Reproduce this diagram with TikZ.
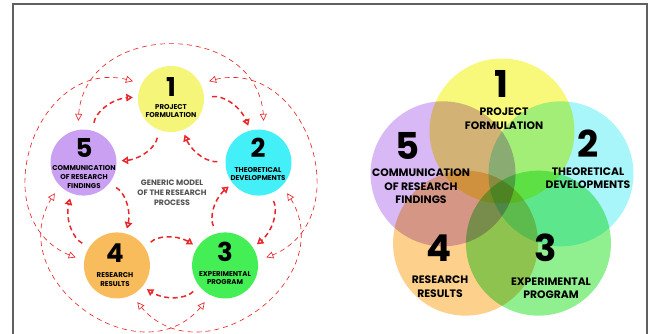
\documentclass[tikz,border=0pt]{standalone}
\usepackage{fontspec}
\setmainfont{Poppins}
\usetikzlibrary{arrows.meta,bending}

\definecolor{dashred}{HTML}{E8262B}
\definecolor{framegray}{HTML}{606060}
\definecolor{midgray}{HTML}{505050}
% solid discs of the cycle diagram
\definecolor{cyel}{HTML}{F5F57A}
\definecolor{ccya}{HTML}{44F0F8}
\definecolor{cgrn}{HTML}{44EE55}
\definecolor{corg}{HTML}{F8BC5C}
\definecolor{cpur}{HTML}{C9A0F2}
% tints of the overlapping discs
\definecolor{vyel}{HTML}{F8F87A}
\definecolor{vcya}{HTML}{A8F5FA}
\definecolor{vgrn}{HTML}{90F090}
\definecolor{vorg}{HTML}{FDD08C}
\definecolor{vpur}{HTML}{D8B8F5}

\begin{document}
\begin{tikzpicture}[x=1pt,y=1pt,
  disc/.style={circle,minimum size=66pt,inner sep=0pt},
  bigdisc/.style={circle,minimum size=145pt,inner sep=0pt,blend mode=multiply},
  num/.style={font=\fontsize{26}{26}\selectfont\bfseries,inner sep=0pt},
  lbl/.style={font=\fontsize{7}{8.8}\selectfont\bfseries,align=center,inner sep=0pt},
  bignum/.style={font=\fontsize{37}{37}\selectfont\bfseries,inner sep=0pt},
  biglbl/.style={font=\fontsize{10.8}{13.5}\selectfont\bfseries,align=center,inner sep=0pt},
  midtext/.style={font=\fontsize{7.8}{9.8}\selectfont\bfseries,align=center,text=midgray,inner sep=0pt},
  thickarr/.style={draw=dashred,line width=1.5pt,dash pattern=on 5pt off 3.5pt,
    -{Triangle[open,length=6.5pt,width=7.5pt]},shorten <=8pt,shorten >=5pt},
  thinarr/.style={draw=dashred,line width=0.65pt,dash pattern=on 5pt off 4pt,
    {Triangle[open,length=7pt,width=7pt]}-{Triangle[open,length=7pt,width=7pt]}},
  frame/.style={draw=framegray,line width=1.2pt}
]
\useasboundingbox (0,0) rectangle (650,334);
\draw[frame] (13,-10) rectangle (647,330);

% ---- cycle of five stages ----
\begin{scope}[shift={(171,143)}]
  \node[disc,fill=cyel] (c1) at (90:92) {};
  \node[disc,fill=ccya] (c2) at (18:92) {};
  \node[disc,fill=cgrn] (c3) at (-54:92) {};
  \node[disc,fill=corg] (c4) at (-126:92) {};
  \node[disc,fill=cpur] (c5) at (162:92) {};
\end{scope}

\node[num] (n1) at (171,247) {1};
\node[lbl] (l1) at (171,223) {PROJECT\\FORMULATION};
\node[num] (n2) at (258,186) {2};
\node[lbl] (l2) at (258,160) {THEORETICAL\\DEVELOPMENTS};
\node[num] (n3) at (225,82) {3};
\node[lbl] (l3) at (225,56) {EXPERIMENTAL\\PROGRAM};
\node[num] (n4) at (115,81) {4};
\node[lbl] (l4) at (115,54.5) {RESEARCH\\RESULTS};
\node[num] (n5) at (84,186) {5};
\node[lbl] (l5) at (84,157) {COMMUNICATION\\OF RESEARCH\\FINDINGS};
\node[midtext] (mid) at (172,141) {GENERIC MODEL\\OF THE RESEARCH\\PROCESS};

% neighbouring stages: outer ring clockwise, inner ring counter-clockwise
\foreach \i/\j in {1/2,2/3,3/4,4/5,5/1} {
  \pgfmathtruncatemacro\sa{mod(90-72*(\i-1)-88+720,360)}
  \pgfmathtruncatemacro\ea{mod(90-72*(\j-1)+88+720,360)}
  \pgfmathtruncatemacro\sb{mod(90-72*(\j-1)+158+720,360)}
  \pgfmathtruncatemacro\eb{mod(90-72*(\i-1)-158+720,360)}
  \draw[thickarr] (c\i.\sa) to[bend left=45] (c\j.\ea);
  \draw[thickarr] (c\j.\sb) to[bend left=45] (c\i.\eb);
}

% stages two apart, joined round the outside of the one between them
\foreach \k/\a/\b in {1/5/2,2/1/3,3/2/4,4/3/5,5/4/1} {
  \pgfmathsetmacro\ang{90-72*(\k-1)}
  \path (c\a.center) ++(\ang+7:42) coordinate (ta\k);
  \path (c\b.center) ++(\ang-7:42) coordinate (tb\k);
  \draw[thinarr] (ta\k) .. controls +(\ang:103) and +(\ang:103) .. (tb\k);
}

% ---- overlapping stages ----
\begin{scope}[shift={(502,141)}]
  \node[bigdisc,fill=vyel] (v1) at (90:62) {};
  \node[bigdisc,fill=vcya] (v2) at (18:62) {};
  \node[bigdisc,fill=vgrn] (v3) at (-54:62) {};
  \node[bigdisc,fill=vorg] (v4) at (-126:62) {};
  \node[bigdisc,fill=vpur] (v5) at (162:62) {};
\end{scope}

\node[bignum] (m1) at (501,250) {1};
\node[biglbl] (k1) at (504,215.5) {PROJECT\\FORMULATION};
\node[bignum] (m2) at (588,190) {2};
\node[biglbl] (k2) at (588,156) {THEORETICAL\\DEVELOPMENTS};
\node[bignum] (m3) at (546,86) {3};
\node[biglbl] (k3) at (551,46) {EXPERIMENTAL\\PROGRAM};
\node[bignum] (m4) at (439,86) {4};
\node[biglbl] (k4) at (440,47.5) {RESEARCH\\RESULTS};
\node[bignum] (m5) at (408,188.5) {5};
\node[biglbl] (k5) at (421,147.5) {COMMUNICATION\\OF RESEARCH\\FINDINGS};
\end{tikzpicture}
\end{document}
